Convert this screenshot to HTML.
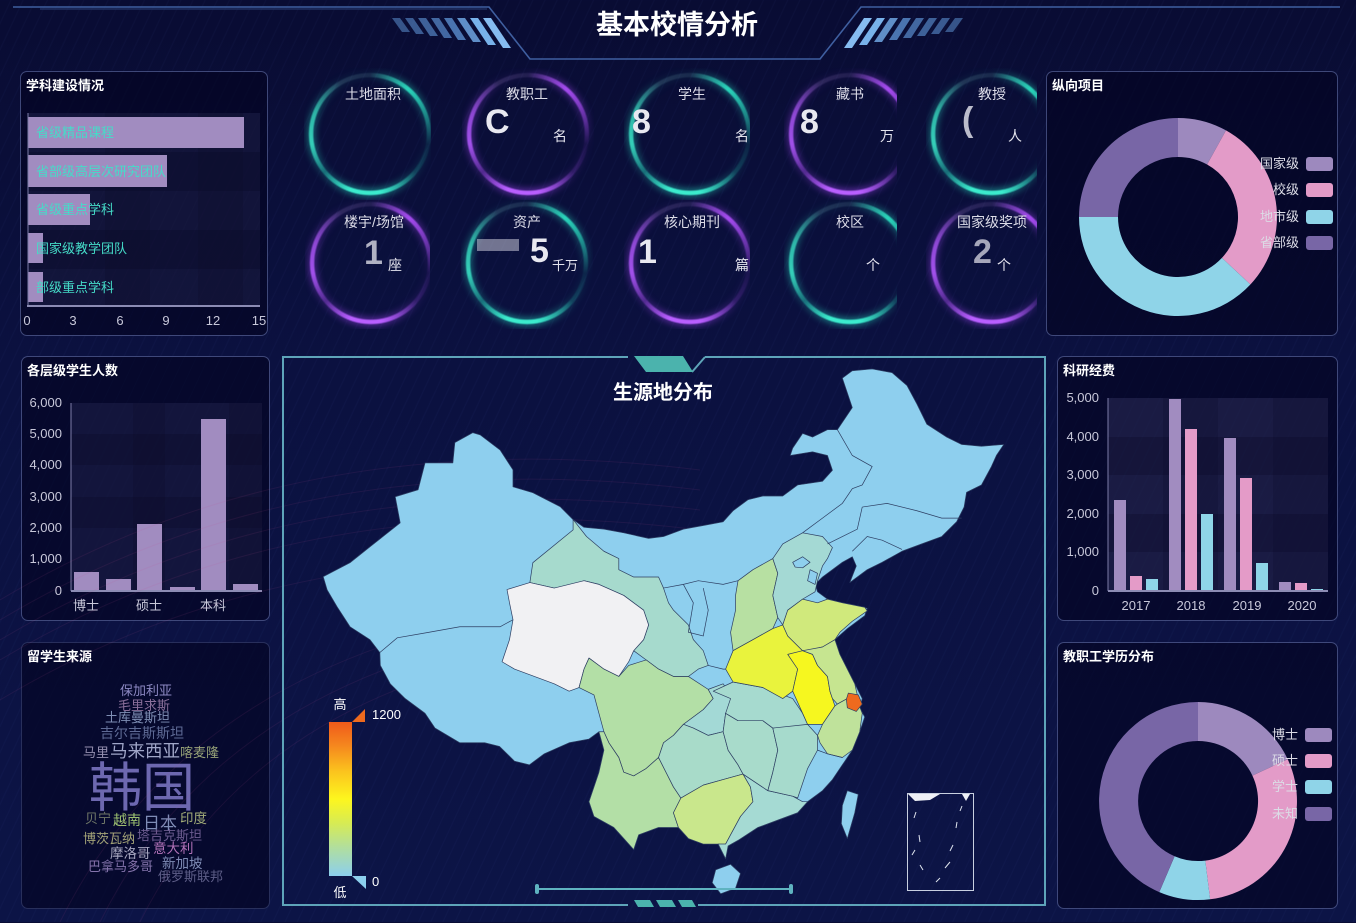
<!DOCTYPE html>
<html><head><meta charset="utf-8">
<style>
html,body{margin:0;padding:0;}
body{width:1356px;height:922px;overflow:hidden;position:relative;
background:linear-gradient(180deg,#090c33 0%,#0b1140 40%,#0c1446 100%);
font-family:"Liberation Sans","Noto Sans CJK SC",sans-serif;color:#fff;}
.streak{position:absolute;left:0;top:0;width:1356px;height:922px;
background:repeating-linear-gradient(115deg,rgba(90,110,200,0.0) 0px,rgba(90,110,200,0.0) 9px,rgba(90,110,200,0.05) 10px,rgba(90,110,200,0.0) 11px);}
.panel{position:absolute;border:1px solid rgba(120,135,200,0.5);border-radius:7px;background:rgba(3,3,32,0.62);}
.pt{position:absolute;left:5px;top:3px;font-size:13px;font-weight:bold;color:#fff;}
.cell{position:absolute;overflow:hidden;}
.glowt{position:absolute;left:4px;top:4px;width:124px;height:124px;filter:drop-shadow(0 0 4px rgba(40,230,200,0.9));}
.glowp{position:absolute;left:4px;top:4px;width:124px;height:124px;filter:drop-shadow(0 0 4px rgba(170,70,255,0.9));}
.ring{width:124px;height:124px;border-radius:50%;
-webkit-mask:radial-gradient(circle closest-side,transparent 90%,#000 93%,#000 97%,transparent 100%);
mask:radial-gradient(circle closest-side,transparent 90%,#000 93%,#000 97%,transparent 100%);}
.rt{background:conic-gradient(from 0deg,rgba(160,220,225,.10) 0deg,rgba(45,225,195,.9) 40deg,rgba(45,225,195,.5) 70deg,rgba(40,200,180,.08) 100deg,rgba(40,200,180,.2) 130deg,rgba(60,235,205,1) 170deg,rgba(60,235,205,1) 200deg,rgba(40,200,180,.4) 230deg,rgba(60,230,200,.85) 260deg,rgba(60,230,200,.7) 290deg,rgba(160,220,225,.15) 330deg,rgba(160,220,225,.10) 360deg);}
.rp{background:conic-gradient(from 0deg,rgba(200,170,240,.10) 0deg,rgba(175,80,250,.9) 40deg,rgba(175,80,250,.5) 70deg,rgba(150,70,220,.08) 100deg,rgba(150,70,220,.2) 130deg,rgba(185,95,255,1) 170deg,rgba(185,95,255,1) 200deg,rgba(150,70,220,.4) 230deg,rgba(180,90,255,.85) 260deg,rgba(180,90,255,.7) 290deg,rgba(200,170,240,.15) 330deg,rgba(200,170,240,.10) 360deg);}
.st{position:absolute;font-size:14px;color:#dcdce8;transform:translateX(-50%);white-space:nowrap;}
.u{position:absolute;font-size:14px;color:#e4e4ee;white-space:nowrap;}
.frag{position:absolute;font-size:34px;font-weight:bold;color:#e8e8f0;}
</style></head>
<body>
<div class="streak"></div>

<!-- header -->
<svg style="position:absolute;left:0;top:0" width="1356" height="70">
  <polyline points="13,7 489,7 530,59 820,59 861,7 1340,7" fill="none" stroke="#3f5fa0" stroke-width="1.6"/>
  <polyline points="40,9 487,9" fill="none" stroke="#2a3f78" stroke-width="1"/>
  <g fill="#5b8fd0">
    <polygon points="392,18 400,18 410,32 402,32" opacity="0.55"/>
    <polygon points="405,18 413,18 424,34 416,34" opacity="0.6"/>
    <polygon points="418,18 426,18 438,36 430,36" opacity="0.65"/>
    <polygon points="431,18 439,18 452,38 444,38" opacity="0.7"/>
    <polygon points="444,18 452,18 466,40 458,40" opacity="0.8"/>
    <polygon points="457,18 465,18 481,42 473,42" opacity="0.85" fill="#6fa6e2"/>
    <polygon points="470,18 478,18 496,45 488,45" fill="#78b2ea"/>
    <polygon points="483,18 491,18 511,48 503,48" fill="#86bcf0"/>
    <polygon points="963,18 955,18 945,32 953,32" opacity="0.55"/>
    <polygon points="950,18 942,18 931,34 939,34" opacity="0.6"/>
    <polygon points="937,18 929,18 917,36 925,36" opacity="0.65"/>
    <polygon points="924,18 916,18 903,38 911,38" opacity="0.7"/>
    <polygon points="911,18 903,18 889,40 897,40" opacity="0.8"/>
    <polygon points="898,18 890,18 874,42 882,42" opacity="0.85" fill="#6fa6e2"/>
    <polygon points="885,18 877,18 859,45 867,45" fill="#78b2ea"/>
    <polygon points="872,18 864,18 844,48 852,48" fill="#86bcf0"/>
  </g>
  <text x="677" y="34" text-anchor="middle" font-size="27" font-weight="bold" fill="#fff" font-family="Liberation Sans,Noto Sans CJK SC,sans-serif">基本校情分析</text>
</svg>

<!-- panels -->
<div class="panel" style="left:20px;top:71px;width:246px;height:263px"><div class="pt">学科建设情况</div></div>
<div class="panel" style="left:1046px;top:71px;width:290px;height:263px"><div class="pt">纵向项目</div></div>
<div class="panel" style="left:21px;top:356px;width:247px;height:263px"><div class="pt">各层级学生人数</div></div>
<div class="panel" style="left:1057px;top:356px;width:279px;height:263px"><div class="pt">科研经费</div></div>
<div class="panel" style="left:21px;top:642px;width:247px;height:265px;border-color:rgba(120,135,200,0.3)"><div class="pt">留学生来源</div></div>
<div class="panel" style="left:1057px;top:642px;width:279px;height:265px"><div class="pt">教职工学历分布</div></div>

<!-- bubbles row 1 -->
<div class="cell" style="left:304px;top:68px;width:127px;height:132px"><div class="glowt"><div class="ring rt"></div></div></div>
<div class="cell" style="left:462px;top:68px;width:132px;height:132px"><div class="glowp"><div class="ring rp"></div></div></div>
<div class="cell" style="left:624px;top:68px;width:126px;height:132px"><div class="glowt"><div class="ring rt"></div></div></div>
<div class="cell" style="left:784px;top:68px;width:113px;height:132px"><div class="glowp"><div class="ring rp"></div></div></div>
<div class="cell" style="left:926px;top:68px;width:111px;height:132px"><div class="glowt"><div class="ring rt"></div></div></div>
<!-- bubbles row 2 -->
<div class="cell" style="left:305px;top:197px;width:125px;height:132px"><div class="glowp"><div class="ring rp"></div></div></div>
<div class="cell" style="left:461px;top:197px;width:132px;height:132px"><div class="glowt"><div class="ring rt"></div></div></div>
<div class="cell" style="left:624px;top:197px;width:126px;height:132px"><div class="glowp"><div class="ring rp"></div></div></div>
<div class="cell" style="left:784px;top:197px;width:113px;height:132px"><div class="glowt"><div class="ring rt"></div></div></div>
<div class="cell" style="left:926px;top:197px;width:111px;height:132px"><div class="glowp"><div class="ring rp"></div></div></div>

<!-- bubble texts -->
<div class="st" style="left:373px;top:84px">土地面积</div>
<div class="st" style="left:527px;top:84px">教职工</div>
<div class="st" style="left:692px;top:84px">学生</div>
<div class="st" style="left:850px;top:84px">藏书</div>
<div class="st" style="left:992px;top:84px">教授</div>
<div class="st" style="left:374px;top:212px">楼宇/场馆</div>
<div class="st" style="left:527px;top:212px">资产</div>
<div class="st" style="left:692px;top:212px">核心期刊</div>
<div class="st" style="left:850px;top:212px">校区</div>
<div class="st" style="left:992px;top:212px">国家级奖项</div>

<div class="frag" style="left:485px;top:103px">C</div>
<div class="u" style="left:553px;top:126px">名</div>
<div class="frag" style="left:632px;top:103px">8</div>
<div class="u" style="left:735px;top:126px">名</div>
<div class="frag" style="left:800px;top:103px">8</div>
<div class="u" style="left:880px;top:126px">万</div>
<div class="frag" style="left:962px;top:101px;opacity:.8">(</div>
<div class="u" style="left:1008px;top:126px">人</div>
<div class="frag" style="left:364px;top:234px;opacity:.75">1</div>
<div class="u" style="left:388px;top:255px">座</div>
<div style="position:absolute;left:477px;top:239px;width:42px;height:12px;background:rgba(200,200,215,.55)"></div>
<div class="frag" style="left:530px;top:232px">5</div>
<div class="u" style="left:552px;top:255px;font-size:13px">千万</div>
<div class="frag" style="left:638px;top:233px">1</div>
<div class="u" style="left:735px;top:255px">篇</div>
<div class="u" style="left:866px;top:255px">个</div>
<div class="frag" style="left:973px;top:233px;opacity:.7">2</div>
<div class="u" style="left:997px;top:255px">个</div>

<!-- charts -->
<svg style="position:absolute;left:0;top:0" width="1356" height="922" font-family="Liberation Sans,Noto Sans CJK SC,sans-serif">
  <!-- 学科建设情况 -->
  <rect x="28" y="113" width="232" height="193" fill="rgba(70,70,120,0.22)"/>
  <rect x="28" y="152" width="232" height="39" fill="rgba(10,10,40,0.35)"/>
  <rect x="28" y="230" width="232" height="39" fill="rgba(10,10,40,0.35)"/>
  <rect x="105" y="113" width="45" height="193" fill="rgba(10,10,40,0.25)"/>
  <rect x="198" y="113" width="45" height="193" fill="rgba(10,10,40,0.25)"/>
  <g fill="#a18cc0">
    <rect x="28" y="117" width="216" height="31"/>
    <rect x="28" y="155" width="139" height="32"/>
    <rect x="28" y="194" width="62" height="31"/>
    <rect x="28" y="233" width="15" height="30"/>
    <rect x="28" y="272" width="15" height="30"/>
  </g>
  <g fill="#45dcc8" font-size="13">
    <text x="36" y="137">省级精品课程</text>
    <text x="36" y="176">省部级高层次研究团队</text>
    <text x="36" y="214">省级重点学科</text>
    <text x="36" y="253">国家级教学团队</text>
    <text x="36" y="292">部级重点学科</text>
  </g>
  <line x1="28" y1="113" x2="28" y2="306" stroke="#7c7ca8" stroke-width="1"/>
  <line x1="27" y1="306" x2="260" y2="306" stroke="#8c8cb4" stroke-width="2"/>
  <g fill="#c8c8da" font-size="13" text-anchor="middle">
    <text x="27" y="325">0</text><text x="73" y="325">3</text><text x="120" y="325">6</text>
    <text x="166" y="325">9</text><text x="213" y="325">12</text><text x="259" y="325">15</text>
  </g>

  <!-- 各层级学生人数 -->
  <rect x="71" y="403" width="191" height="188" fill="rgba(70,70,120,0.22)"/>
  <rect x="71" y="434" width="191" height="31" fill="rgba(10,10,40,0.3)"/>
  <rect x="71" y="497" width="191" height="31" fill="rgba(10,10,40,0.3)"/>
  <rect x="133" y="403" width="32" height="188" fill="rgba(10,10,40,0.25)"/>
  <rect x="229" y="403" width="33" height="188" fill="rgba(10,10,40,0.25)"/>
  <g fill="#a18cc0">
    <rect x="74" y="572" width="25" height="19"/>
    <rect x="106" y="579" width="25" height="12"/>
    <rect x="137" y="524" width="25" height="67"/>
    <rect x="170" y="587" width="25" height="4"/>
    <rect x="201" y="419" width="25" height="172"/>
    <rect x="233" y="584" width="25" height="7"/>
  </g>
  <line x1="71" y1="403" x2="71" y2="591" stroke="#7c7ca8" stroke-width="1"/>
  <line x1="71" y1="591" x2="262" y2="591" stroke="#8c8cb4" stroke-width="2"/>
  <g fill="#c8c8da" font-size="13" text-anchor="end">
    <text x="62" y="407">6,000</text><text x="62" y="438">5,000</text><text x="62" y="469">4,000</text>
    <text x="62" y="501">3,000</text><text x="62" y="532">2,000</text><text x="62" y="563">1,000</text>
    <text x="62" y="595">0</text>
  </g>
  <g fill="#c8c8da" font-size="13" text-anchor="middle">
    <text x="86" y="610">博士</text><text x="149" y="610">硕士</text><text x="213" y="610">本科</text>
  </g>

  <!-- 科研经费 -->
  <rect x="1108" y="398" width="220" height="193" fill="rgba(80,80,130,0.28)"/>
  <rect x="1108" y="437" width="220" height="38" fill="rgba(10,10,40,0.3)"/>
  <rect x="1108" y="514" width="220" height="38" fill="rgba(10,10,40,0.3)"/>
  <rect x="1163" y="398" width="55" height="193" fill="rgba(10,10,40,0.22)"/>
  <rect x="1273" y="398" width="55" height="193" fill="rgba(10,10,40,0.22)"/>
  <g fill="#a18cc0">
    <rect x="1114" y="500" width="12" height="91"/>
    <rect x="1169" y="399" width="12" height="192"/>
    <rect x="1224" y="438" width="12" height="153"/>
    <rect x="1279" y="582" width="12" height="9"/>
  </g>
  <g fill="#e49bc8">
    <rect x="1130" y="576" width="12" height="15"/>
    <rect x="1185" y="429" width="12" height="162"/>
    <rect x="1240" y="478" width="12" height="113"/>
    <rect x="1295" y="583" width="12" height="8"/>
  </g>
  <g fill="#8fd5e8">
    <rect x="1146" y="579" width="12" height="12"/>
    <rect x="1201" y="514" width="12" height="77"/>
    <rect x="1256" y="563" width="12" height="28"/>
    <rect x="1311" y="589" width="12" height="2"/>
  </g>
  <line x1="1108" y1="398" x2="1108" y2="591" stroke="#7c7ca8" stroke-width="1"/>
  <line x1="1108" y1="591" x2="1328" y2="591" stroke="#8c8cb4" stroke-width="2"/>
  <g fill="#c8c8da" font-size="13" text-anchor="end">
    <text x="1099" y="402">5,000</text><text x="1099" y="441">4,000</text><text x="1099" y="479">3,000</text>
    <text x="1099" y="518">2,000</text><text x="1099" y="556">1,000</text><text x="1099" y="595">0</text>
  </g>
  <g fill="#c8c8da" font-size="13" text-anchor="middle">
    <text x="1136" y="610">2017</text><text x="1191" y="610">2018</text><text x="1247" y="610">2019</text><text x="1302" y="610">2020</text>
  </g>

  <!-- 纵向项目 donut -->
  <path d="M1178,118 A99,99 0 0 1 1226,130.4 L1207.1,164.5 A60,60 0 0 0 1178,157 Z" fill="#9d89be"/>
  <path d="M1226,130.4 A99,99 0 0 1 1250.4,284.5 L1221.9,257.9 A60,60 0 0 0 1207.1,164.5 Z" fill="#e39bc8"/>
  <path d="M1250.4,284.5 A99,99 0 0 1 1079,217 L1118,217 A60,60 0 0 0 1221.9,257.9 Z" fill="#8fd4e8"/>
  <path d="M1079,217 A99,99 0 0 1 1178,118 L1178,157 A60,60 0 0 0 1118,217 Z" fill="#7866a6"/>
  <g font-size="13" fill="#dcdce6" text-anchor="end">
    <text x="1299" y="168">国家级</text><text x="1299" y="194">校级</text><text x="1299" y="221">地市级</text><text x="1299" y="247">省部级</text>
  </g>
  <rect x="1306" y="157" width="27" height="14" rx="3" fill="#9d89be"/>
  <rect x="1306" y="183" width="27" height="14" rx="3" fill="#e39bc8"/>
  <rect x="1306" y="210" width="27" height="14" rx="3" fill="#8fd4e8"/>
  <rect x="1306" y="236" width="27" height="14" rx="3" fill="#7866a6"/>

  <!-- 教职工学历分布 donut -->
  <path d="M1198,702 A99,99 0 0 1 1287.7,759.2 L1252.4,775.6 A60,60 0 0 0 1198,741 Z" fill="#9d89be"/>
  <path d="M1287.7,759.2 A99,99 0 0 1 1210.1,899.3 L1205.3,860.6 A60,60 0 0 0 1252.4,775.6 Z" fill="#e39bc8"/>
  <path d="M1210.1,899.3 A99,99 0 0 1 1159.3,892.1 L1174.6,856.2 A60,60 0 0 0 1205.3,860.6 Z" fill="#8fd4e8"/>
  <path d="M1159.3,892.1 A99,99 0 0 1 1198,702 L1198,741 A60,60 0 0 0 1174.6,856.2 Z" fill="#7866a6"/>
  <g font-size="13" fill="#dcdce6" text-anchor="end">
    <text x="1298" y="739">博士</text><text x="1298" y="765">硕士</text><text x="1298" y="791">学士</text><text x="1298" y="818">未知</text>
  </g>
  <rect x="1305" y="728" width="27" height="14" rx="3" fill="#9d89be"/>
  <rect x="1305" y="754" width="27" height="14" rx="3" fill="#e39bc8"/>
  <rect x="1305" y="780" width="27" height="14" rx="3" fill="#8fd4e8"/>
  <rect x="1305" y="807" width="27" height="14" rx="3" fill="#7866a6"/>

  <!-- word cloud -->
  <g>
    <text x="120" y="695" font-size="13" fill="#8c88c2">保加利亚</text>
    <text x="118" y="710" font-size="13" fill="#8a6f9a">毛里求斯</text>
    <text x="105" y="722" font-size="13" fill="#7f8fb5">土库曼斯坦</text>
    <text x="100" y="738" font-size="14" fill="#5e6a95">吉尔吉斯斯坦</text>
    <text x="83" y="757" font-size="13" fill="#9590b0">马里</text>
    <text x="110" y="757" font-size="17.5" fill="#a0a6c8">马来西亚</text>
    <text x="180" y="757" font-size="13" fill="#98a478">喀麦隆</text>
    <text x="89" y="806" font-size="53" fill="#6d68b0">韩国</text>
    <text x="85" y="823" font-size="13" fill="#707868">贝宁</text>
    <text x="113" y="825" font-size="14" fill="#9cc070">越南</text>
    <text x="143" y="829" font-size="17" fill="#7f8cb6">日本</text>
    <text x="180" y="823" font-size="13.5" fill="#a2ac78">印度</text>
    <text x="83" y="843" font-size="13" fill="#a4a478">博茨瓦纳</text>
    <text x="137" y="840" font-size="13" fill="#6c5c90">塔吉克斯坦</text>
    <text x="110" y="858" font-size="13.5" fill="#a8a8c0">摩洛哥</text>
    <text x="153" y="853" font-size="13.5" fill="#b272b8">意大利</text>
    <text x="88" y="871" font-size="13" fill="#8474ac">巴拿马多哥</text>
    <text x="162" y="868" font-size="13.5" fill="#7f8cb6">新加坡</text>
    <text x="158" y="881" font-size="13" fill="#5e5e88">俄罗斯联邦</text>
  </g>
</svg>

<!-- decorative arcs -->
<svg style="position:absolute;left:0;top:0" width="1356" height="922">
  <g fill="none" stroke="rgba(200,80,150,0.10)" stroke-width="1">
    <path d="M0,600 Q300,420 700,470"/>
    <path d="M0,620 Q300,440 700,490"/>
    <path d="M0,640 Q300,460 700,510"/>
    <path d="M0,660 Q300,480 700,530"/>
    <path d="M0,700 Q300,520 700,570"/>
    <path d="M60,922 Q200,640 600,600"/>
    <path d="M100,922 Q230,660 600,620"/>
    <path d="M140,922 Q260,680 600,640"/>
  </g>
</svg>

<!-- map -->
<svg style="position:absolute;left:276px;top:345px" width="779" height="577.5" viewBox="0 0 1568 1568" preserveAspectRatio="none">
  <g stroke="#2d3e62" stroke-width="0.7" stroke-linejoin="round">
  <polygon vector-effect="non-scaling-stroke" fill="#8ecfee" points="396,238 411,244 451,285 477,339 477,385 517,401 572,439 598,474 620,495 660,500 700,510 750,525 780,520 820,500 860,490 900,480 920,450 950,420 980,410 1020,410 1050,380 1100,370 1120,340 1110,300 1080,290 1035,300 1040,280 1060,240 1080,250 1110,230 1130,230 1140,210 1160,170 1150,130 1140,90 1160,70 1200,65 1240,75 1270,110 1290,160 1310,215 1350,250 1380,270 1420,275 1465,270 1450,300 1440,330 1420,380 1390,400 1385,440 1370,480 1340,520 1300,540 1260,560 1220,590 1190,610 1155,645 1168,600 1160,575 1140,590 1120,610 1100,630 1085,650 1090,670 1110,690 1140,700 1160,705 1190,715 1185,735 1150,770 1125,800 1135,840 1150,880 1165,920 1180,960 1175,985 1185,1010 1175,1050 1160,1100 1140,1140 1120,1180 1100,1210 1070,1240 1050,1270 1010,1290 970,1310 930,1345 910,1360 905,1395 890,1355 860,1355 830,1340 810,1310 770,1310 730,1330 720,1370 700,1340 680,1310 640,1280 630,1240 640,1200 650,1160 660,1100 650,1050 630,1070 590,1080 540,1110 510,1140 480,1130 450,1090 420,1080 370,1080 320,1040 300,1000 260,960 230,920 210,870 209,835 189,800 149,765 123,711 103,665 95,629 149,591 189,548 250,483 240,412 286,393 300,320 356,320 360,265"/>
  <polygon vector-effect="non-scaling-stroke" fill="#a6dacd" points="598,474 625,520 660,560 690,580 690,610 720,630 770,630 780,660 790,700 800,720 830,760 840,800 860,830 870,870 850,880 830,900 800,900 770,880 745,855 720,830 740,800 750,760 740,720 720,700 700,680 650,650 620,640 590,660 560,660 511,645 517,591 598,502"/>
  <polygon vector-effect="non-scaling-stroke" fill="#f1f1f3" points="465,664 511,645 560,660 620,640 650,650 700,680 740,720 750,760 740,800 720,830 710,860 690,900 660,880 630,850 620,880 610,930 590,940 560,920 520,900 480,880 455,860 470,800 477,746 470,700"/>
  <polygon vector-effect="non-scaling-stroke" fill="#b3dfa6" points="610,930 620,880 630,850 660,880 690,900 710,870 745,855 770,880 800,900 830,900 870,935 880,960 860,990 820,1030 800,1060 780,1080 770,1120 745,1150 720,1170 700,1160 690,1120 670,1080 660,1050 650,1000 640,950"/>
  <polygon vector-effect="non-scaling-stroke" fill="#a3d9d6" points="870,935 900,920 920,960 905,1000 900,1050 870,1060 840,1040 820,1030 860,990 880,960"/>
  <polygon vector-effect="non-scaling-stroke" fill="#b3dfa6" points="650,1050 660,1050 670,1080 690,1120 700,1160 720,1170 745,1150 770,1120 785,1160 800,1200 815,1230 800,1270 810,1310 770,1310 730,1330 720,1370 700,1340 680,1310 640,1280 630,1240 640,1200 650,1160 660,1100"/>
  <polygon vector-effect="non-scaling-stroke" fill="#a8dbc9" points="780,1080 800,1060 820,1030 840,1040 870,1060 900,1050 910,1100 930,1140 940,1165 900,1180 860,1195 815,1230 800,1200 785,1160 770,1120"/>
  <polygon vector-effect="non-scaling-stroke" fill="#c9e78c" points="815,1230 860,1195 900,1180 940,1165 955,1200 960,1240 935,1280 915,1330 905,1355 890,1355 860,1355 830,1340 810,1310 800,1270"/>
  <polygon vector-effect="non-scaling-stroke" fill="#a5dad3" points="940,1165 990,1210 1040,1225 1060,1240 1070,1240 1050,1270 1010,1290 970,1310 930,1345 910,1360 905,1395 890,1355 905,1355 915,1330 935,1280 960,1240 955,1200"/>
  <polygon vector-effect="non-scaling-stroke" fill="#a8dbcb" points="900,1050 905,1000 930,1020 980,1020 1000,1040 1010,1100 1000,1160 990,1210 940,1165 930,1140 910,1100"/>
  <polygon vector-effect="non-scaling-stroke" fill="#a6dacc" points="1000,1040 1040,1030 1070,1030 1090,1060 1090,1100 1070,1150 1060,1190 1050,1230 1040,1225 990,1210 1000,1160 1010,1100"/>
  <polygon vector-effect="non-scaling-stroke" fill="#a6dacf" points="880,940 920,915 980,930 1040,960 1060,1000 1070,1030 1000,1040 980,1020 930,1020 905,1000 915,960"/>
  <polygon vector-effect="non-scaling-stroke" fill="#b7e0a2" points="930,640 960,610 1000,580 1010,620 1000,680 1010,740 1000,770 960,800 920,830 915,780 925,720 925,680"/>
  <polygon vector-effect="non-scaling-stroke" fill="#a4d9d4" points="1000,580 1020,540 1060,510 1100,520 1120,550 1110,580 1100,600 1090,640 1085,670 1060,690 1030,720 1020,760 1010,740 1000,680 1010,620"/>
  <polygon vector-effect="non-scaling-stroke" fill="#8ecfee" points="1040,590 1060,575 1075,590 1060,605 1045,603"/>
  <polygon vector-effect="non-scaling-stroke" fill="#8ecfee" points="1075,610 1090,620 1085,650 1070,640"/>
  <polygon vector-effect="non-scaling-stroke" fill="#e9f33d" points="920,830 960,800 1000,770 1020,760 1030,790 1060,830 1050,880 1040,940 1020,960 980,930 920,915 905,880"/>
  <polygon vector-effect="non-scaling-stroke" fill="#d0e97c" points="1020,760 1030,720 1060,690 1090,700 1110,690 1140,700 1185,712 1190,722 1160,750 1135,780 1125,800 1100,820 1070,830 1060,830 1030,790"/>
  <polygon vector-effect="non-scaling-stroke" fill="#f6f71f" points="1030,840 1060,830 1080,840 1090,870 1110,900 1115,940 1125,980 1110,1010 1100,1030 1070,1030 1060,1000 1050,970 1040,940 1050,880"/>
  <polygon vector-effect="non-scaling-stroke" fill="#c6e590" points="1060,830 1100,820 1125,800 1135,840 1150,880 1165,920 1170,950 1150,960 1130,975 1120,960 1115,940 1110,900 1090,870 1080,840"/>
  <polygon vector-effect="non-scaling-stroke" fill="#bfe29b" points="1110,1010 1125,980 1130,975 1150,960 1170,965 1180,1000 1175,1050 1160,1100 1140,1120 1110,1110 1095,1080 1090,1060 1100,1030"/>
  <polygon vector-effect="non-scaling-stroke" fill="#ee6a1e" points="1152,945 1172,950 1180,975 1168,995 1150,985 1148,962"/>
  <polygon vector-effect="non-scaling-stroke" fill="#8ecfee" points="1150,1210 1172,1220 1165,1270 1150,1340 1138,1300 1140,1250"/>
  <polygon vector-effect="non-scaling-stroke" fill="#8ecfee" points="885,1425 915,1410 935,1435 925,1475 895,1490 878,1460"/>
  </g>
  <g fill="none" stroke="#2d3e62" stroke-width="0.7">
    <polyline vector-effect="non-scaling-stroke" points="209,835 244,795 304,781 370,765 451,765 477,746"/>
    <polyline vector-effect="non-scaling-stroke" points="1060,510 1100,470 1140,430 1160,390 1180,380 1200,330 1160,300 1130,230"/>
    <polyline vector-effect="non-scaling-stroke" points="1180,440 1230,430 1290,450 1340,470 1380,470"/>
    <polyline vector-effect="non-scaling-stroke" points="1160,560 1190,520 1220,530 1260,555"/>
    <polyline vector-effect="non-scaling-stroke" points="1110,540 1140,520 1170,500 1180,440"/>
    <polyline vector-effect="non-scaling-stroke" points="780,660 820,650 850,640 900,650 930,640"/>
    <polyline vector-effect="non-scaling-stroke" points="820,650 840,700 830,780 860,790 870,720 860,660"/>
    <polyline vector-effect="non-scaling-stroke" points="870,870 900,880 905,880"/>
    <polyline vector-effect="non-scaling-stroke" points="1090,1100 1110,1110 1140,1120"/>
  </g>
</svg>

<!-- map frame & overlays -->
<svg style="position:absolute;left:0;top:0" width="1356" height="922" font-family="Liberation Sans,Noto Sans CJK SC,sans-serif">
  <g stroke="#5ea4b9" stroke-width="2" fill="none">
    <line x1="282" y1="357" x2="628" y2="357"/>
    <line x1="705" y1="357" x2="1045" y2="357"/>
    <line x1="283" y1="356" x2="283" y2="905"/>
    <line x1="1045" y1="356" x2="1045" y2="905"/>
    <line x1="282" y1="905" x2="628" y2="905"/>
    <line x1="698" y1="905" x2="1046" y2="905"/>
    <line x1="692" y1="372" x2="705" y2="357"/>
  </g>
  <polygon points="634,356 683,356 693,372 646,372" fill="#4bb3ad"/>
  <polygon points="634,900 650,900 654,907 638,907" fill="#4bb3ad"/>
  <polygon points="656,900 672,900 676,907 660,907" fill="#4bb3ad"/>
  <polygon points="678,900 692,900 696,907 682,907" fill="#4bb3ad"/>
  <text x="663" y="399" text-anchor="middle" font-size="20" font-weight="bold" fill="#fff">生源地分布</text>

  <!-- color scale -->
  <defs>
    <linearGradient id="vg" x1="0" y1="0" x2="0" y2="1">
      <stop offset="0" stop-color="#f05a1a"/>
      <stop offset="0.15" stop-color="#f5861e"/>
      <stop offset="0.32" stop-color="#fbc31e"/>
      <stop offset="0.5" stop-color="#fdf61e"/>
      <stop offset="0.66" stop-color="#d6eb55"/>
      <stop offset="0.82" stop-color="#b0dea0"/>
      <stop offset="1" stop-color="#8ccfee"/>
    </linearGradient>
  </defs>
  <rect x="329" y="722" width="23" height="154" fill="url(#vg)"/>
  <polygon points="352,722 365,709 365,722" fill="#ee6a1e"/>
  <polygon points="352,876 366,876 366,889" fill="#8ccfee"/>
  <text x="340" y="709" text-anchor="middle" font-size="13" fill="#fff">高</text>
  <text x="372" y="719" font-size="13" fill="#fff">1200</text>
  <text x="372" y="886" font-size="13" fill="#fff">0</text>
  <text x="340" y="897" text-anchor="middle" font-size="13" fill="#fff">低</text>

  <!-- slider -->
  <line x1="537" y1="889" x2="791" y2="889" stroke="#5fb3c0" stroke-width="2"/>
  <rect x="535" y="884" width="4" height="10" rx="2" fill="#5fb3c0"/>
  <rect x="789" y="884" width="4" height="10" rx="2" fill="#5fb3c0"/>

  <!-- south china sea inset -->
  <rect x="907.5" y="793.5" width="66" height="97" fill="none" stroke="#c8d0e0" stroke-width="1"/>
  <polygon points="908,794 940,794 930,800 915,801" fill="#eef0f6"/>
  <polygon points="962,794 970,794 966,801" fill="#eef0f6"/>
  <g stroke="#dfe4ee" stroke-width="1">
    <line x1="916" y1="812" x2="914" y2="818"/>
    <line x1="962" y1="806" x2="960" y2="811"/>
    <line x1="957" y1="822" x2="956" y2="828"/>
    <line x1="919" y1="835" x2="920" y2="842"/>
    <line x1="915" y1="850" x2="912" y2="855"/>
    <line x1="953" y1="845" x2="950" y2="851"/>
    <line x1="950" y1="862" x2="945" y2="868"/>
    <line x1="920" y1="865" x2="923" y2="870"/>
    <line x1="940" y1="878" x2="936" y2="882"/>
  </g>
</svg>
</body></html>
